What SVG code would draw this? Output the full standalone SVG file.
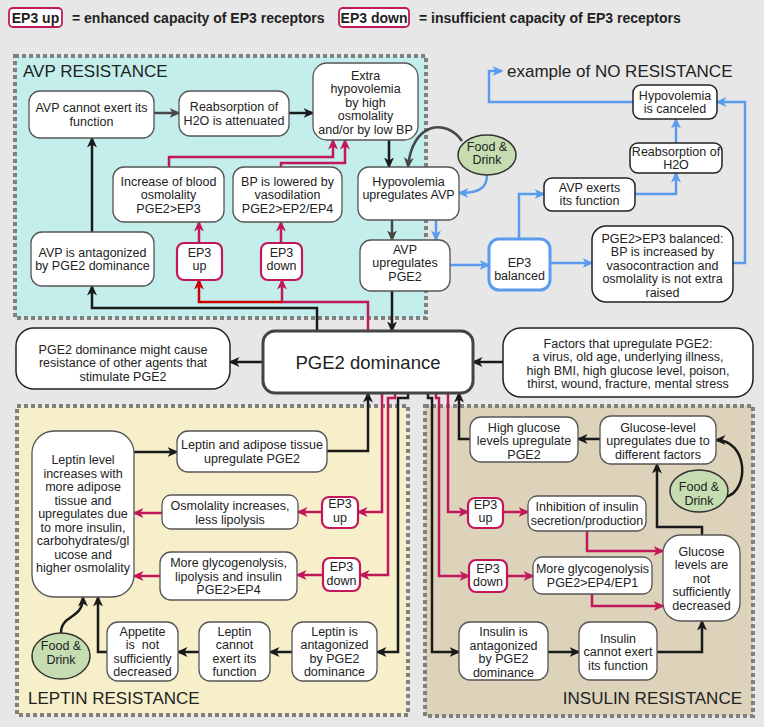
<svg xmlns="http://www.w3.org/2000/svg" width="764" height="727" viewBox="0 0 764 727">
<defs>
<style>
.t{font-family:"Liberation Sans",Arial,sans-serif;font-size:12.5px;fill:#222;text-anchor:middle}
.lg{font-family:"Liberation Sans",Arial,sans-serif;font-size:14px;font-weight:bold;fill:#222}
.lab{font-family:"Liberation Sans",Arial,sans-serif;font-size:17px;fill:#222}
.n{fill:#fff;stroke:#555;stroke-width:1.3}
.nb{fill:#fff;stroke:#222;stroke-width:1.5}
.ep{fill:#fff;stroke:#c2185b;stroke-width:2.2}
.reg{stroke:#808080;stroke-width:4;stroke-dasharray:4 3}
.c{fill:none;stroke-width:2.5;stroke-linejoin:miter}
.k{stroke:#1a1a1a;marker-end:url(#mk)}
.g{stroke:#474747;marker-end:url(#mg)}
.p{stroke:#c2185b;marker-end:url(#mp)}
.r{stroke:#cc0000;marker-end:url(#mr)}
.b{stroke:#5b9bef;marker-end:url(#mb)}
.fd{fill:#c6dcb1;stroke:#333;stroke-width:1.5}
</style>
<marker id="mk" viewBox="0 0 11 10" refX="9.5" refY="5" markerWidth="11" markerHeight="10" markerUnits="userSpaceOnUse" orient="auto"><path d="M0,0 L11,5 L0,10 L3,5 z" fill="#1a1a1a"/></marker>
<marker id="mg" viewBox="0 0 11 10" refX="9.5" refY="5" markerWidth="11" markerHeight="10" markerUnits="userSpaceOnUse" orient="auto"><path d="M0,0 L11,5 L0,10 L3,5 z" fill="#474747"/></marker>
<marker id="mp" viewBox="0 0 11 10" refX="9.5" refY="5" markerWidth="11" markerHeight="10" markerUnits="userSpaceOnUse" orient="auto"><path d="M0,0 L11,5 L0,10 L3,5 z" fill="#c2185b"/></marker>
<marker id="mr" viewBox="0 0 11 10" refX="9.5" refY="5" markerWidth="11" markerHeight="10" markerUnits="userSpaceOnUse" orient="auto"><path d="M0,0 L11,5 L0,10 L3,5 z" fill="#cc0000"/></marker>
<marker id="mb" viewBox="0 0 11 10" refX="9.5" refY="5" markerWidth="11" markerHeight="10" markerUnits="userSpaceOnUse" orient="auto"><path d="M0,0 L11,5 L0,10 L3,5 z" fill="#5b9bef"/></marker>
</defs>

<rect x="0" y="0" width="764" height="727" fill="#e7e7e7"/>

<g id="legend">
<rect x="9" y="8" width="53" height="19" rx="4" fill="#fff" stroke="#c2185b" stroke-width="1.8"/>
<text class="lg" x="35.5" y="22.5" text-anchor="middle">EP3 up</text>
<text class="lg" x="72" y="22.5">= enhanced capacity of EP3 receptors</text>
<rect x="339" y="8" width="70" height="19" rx="4" fill="#fff" stroke="#c2185b" stroke-width="1.8"/>
<text class="lg" x="374" y="22.5" text-anchor="middle">EP3 down</text>
<text class="lg" x="419" y="22.5">= insufficient capacity of EP3 receptors</text>
</g>

<g id="regions">
<rect class="reg" x="15" y="56" width="411" height="262" fill="#c4eeeb"/>
<rect class="reg" x="17" y="406" width="391" height="309" fill="#f6efca"/>
<rect class="reg" x="425" y="406" width="328" height="310" fill="#ddd3bb"/>
<text class="lab" x="23" y="77">AVP RESISTANCE</text>
<text class="lab" x="507" y="77">example of NO RESISTANCE</text>
<text class="lab" x="28" y="704">LEPTIN RESISTANCE</text>
<text class="lab" x="742" y="704" text-anchor="end">INSULIN RESISTANCE</text>
</g>

<g id="connectors">
<!-- AVP resistance -->
<path class="c k" d="M92,232 V138"/>
<path class="c g" d="M154,113 H179"/>
<path class="c k" d="M289,113 H313"/>
<path class="c k" d="M389,140 V167"/>
<path class="c g" d="M462,141 C446,118 412,122 408,167"/>
<path class="c g" d="M392,220 V240"/>
<path class="c k" d="M392,291 V331"/>
<path class="c k" d="M317,331 V308 H92 V286"/>
<path class="c p" d="M368,331 V302 H282 V280"/>
<path class="c r" d="M282,302 H199 V280"/>
<path class="c p" d="M199,243 V222"/>
<path class="c p" d="M281,243 V222"/>
<path class="c p" d="M169,167 V157 H333 V140"/>
<path class="c p" d="M281,167 V163 H345 V140"/>
<!-- no resistance -->
<path class="c b" d="M487,175 C487,188 479,193 459,193"/>
<path class="c b" d="M436,220 V240"/>
<path class="c b" d="M450,265 H489"/>
<path class="c b" d="M519,239 V194 H544"/>
<path class="c b" d="M635,194 H676 V173"/>
<path class="c b" d="M676,143 V119"/>
<path class="c b" d="M550,263 H592"/>
<path class="c b" d="M733,263 H745 V102 H717"/>
<path class="c b" d="M633,102 H489 V71 H502"/>
<!-- middle -->
<path class="c k" d="M263,362 H230"/>
<path class="c k" d="M503,362 H473"/>
<!-- leptin -->
<path class="c k" d="M327,451 H368 V393"/>
<path class="c k" d="M134,452 H177"/>
<path class="c k" d="M408,393 V398 H398 V652 H377"/>
<path class="c k" d="M292,652 H270"/>
<path class="c k" d="M199,652 H178"/>
<path class="c k" d="M107,652 H98 V597"/>
<path class="c k" d="M61,633 C61,614 83,620 83,597"/>
<path class="c p" d="M382,393 V512 H358"/>
<path class="c p" d="M322,512 H298"/>
<path class="c p" d="M162,513 H134"/>
<path class="c p" d="M395,393 V398 H388 V575 H360"/>
<path class="c p" d="M323,575 H297"/>
<path class="c p" d="M160,576 H134"/>
<!-- insulin -->
<path class="c k" d="M428,393 V398 H432 V652 H459"/>
<path class="c k" d="M548,652 H579"/>
<path class="c k" d="M657,652 H702 V621"/>
<path class="c k" d="M702,535 V527 H657 V464"/>
<path class="c k" d="M600,439 H578"/>
<path class="c k" d="M470,439 H459 V393"/>
<path class="c k" d="M726,497 C750,490 748,440 716,440"/>
<path class="c p" d="M448,393 V512 H468"/>
<path class="c p" d="M436,393 V398 H439 V576 H469"/>
<path class="c p" d="M503,512 H528"/>
<path class="c p" d="M587,531 V551 H663"/>
<path class="c p" d="M507,576 H533"/>
<path class="c p" d="M592,594 V606 H663"/>
</g>

<!-- AVP resistance nodes -->
<g id="avp-cannot"><rect class="n" x="29" y="91" width="125" height="47" rx="11"/>
<text class="t"><tspan x="91.5" y="112">AVP cannot exert its</tspan><tspan x="91.5" y="125.5">function</tspan></text></g>
<g id="avp-reabs"><rect class="n" x="179" y="91" width="110" height="45" rx="11"/>
<text class="t"><tspan x="234" y="111">Reabsorption of</tspan><tspan x="234" y="124.5">H2O is attenuated</tspan></text></g>
<g id="avp-extra"><rect class="n" x="313" y="63" width="105" height="77" rx="14"/>
<text class="t"><tspan x="365.5" y="79.5">Extra</tspan><tspan x="365.5" y="93">hypovolemia</tspan><tspan x="365.5" y="106.5">by high</tspan><tspan x="365.5" y="120">osmolality</tspan><tspan x="365.5" y="133.5">and/or by low BP</tspan></text></g>
<g id="avp-increase"><rect class="n" x="113" y="167" width="111" height="55" rx="11"/>
<text class="t"><tspan x="168.5" y="185.5">Increase of blood</tspan><tspan x="168.5" y="199">osmolality</tspan><tspan x="168.5" y="212.5">PGE2&gt;EP3</tspan></text></g>
<g id="avp-bp"><rect class="n" x="233" y="167" width="109" height="55" rx="11"/>
<text class="t"><tspan x="287.5" y="185.5">BP is lowered by</tspan><tspan x="287.5" y="199">vasodilation</tspan><tspan x="287.5" y="212.5">PGE2&gt;EP2/EP4</tspan></text></g>
<g id="hypo-avp"><rect class="n" x="358" y="167" width="101" height="53" rx="11"/>
<text class="t"><tspan x="408.5" y="185.5">Hypovolemia</tspan><tspan x="408.5" y="199">upregulates AVP</tspan></text></g>
<g id="avp-pge2"><rect class="n" x="360" y="240" width="90" height="51" rx="11"/>
<text class="t"><tspan x="405" y="253.5">AVP</tspan><tspan x="405" y="267">upregulates</tspan><tspan x="405" y="280.5">PGE2</tspan></text></g>
<g id="avp-antag"><rect class="n" x="31" y="232" width="123" height="54" rx="11"/>
<text class="t"><tspan x="92.5" y="256.5">AVP is antagonized</tspan><tspan x="92.5" y="270">by PGE2 dominance</tspan></text></g>
<g id="avp-ep3up"><rect class="ep" x="177" y="243" width="45" height="37" rx="7"/>
<text class="t"><tspan x="199.5" y="256.5">EP3</tspan><tspan x="199.5" y="270">up</tspan></text></g>
<g id="avp-ep3down"><rect class="ep" x="261" y="243" width="41" height="37" rx="7"/>
<text class="t"><tspan x="281.5" y="256.5">EP3</tspan><tspan x="281.5" y="270">down</tspan></text></g>
<g id="food-avp"><ellipse class="fd" cx="487" cy="155" rx="29" ry="20"/>
<text class="t"><tspan x="487" y="150.5">Food &amp;</tspan><tspan x="487" y="164">Drink</tspan></text></g>

<!-- no resistance nodes -->
<g id="nr-canceled"><rect class="nb" x="633" y="85" width="84" height="34" rx="8"/>
<text class="t"><tspan x="675" y="99.5">Hypovolemia</tspan><tspan x="675" y="113">is canceled</tspan></text></g>
<g id="nr-reabs"><rect class="nb" x="630" y="143" width="92" height="30" rx="8"/>
<text class="t"><tspan x="676" y="155.5">Reabsorption of</tspan><tspan x="676" y="169">H2O</tspan></text></g>
<g id="nr-exerts"><rect class="nb" x="544" y="178" width="91" height="33" rx="8"/>
<text class="t"><tspan x="589.5" y="191.5">AVP exerts</tspan><tspan x="589.5" y="205">its function</tspan></text></g>
<g id="nr-ep3"><rect x="489" y="239" width="61" height="51" rx="10" fill="#fff" stroke="#5b9bef" stroke-width="3"/>
<text class="t"><tspan x="519.5" y="266.5">EP3</tspan><tspan x="519.5" y="280">balanced</tspan></text></g>
<g id="nr-balanced"><rect class="nb" x="592" y="226" width="141" height="76" rx="14"/>
<text class="t"><tspan x="662.5" y="242.5">PGE2&gt;EP3 balanced:</tspan><tspan x="662.5" y="256">BP is increased by</tspan><tspan x="662.5" y="269.5">vasocontraction and</tspan><tspan x="662.5" y="283">osmolality is not extra</tspan><tspan x="662.5" y="296.5">raised</tspan></text></g>

<!-- middle nodes -->
<g id="other-agents"><rect class="nb" x="16" y="328" width="214" height="61" rx="18"/>
<text class="t"><tspan x="123" y="353.5">PGE2 dominance might cause</tspan><tspan x="123" y="367">resistance of other agents that</tspan><tspan x="123" y="380.5">stimulate PGE2</tspan></text></g>
<g id="pge2"><rect x="263" y="331" width="210" height="62" rx="12" fill="#fff" stroke="#444" stroke-width="3"/>
<text class="t" x="368" y="369" style="font-size:18.5px">PGE2 dominance</text></g>
<g id="factors"><rect class="nb" x="503" y="328" width="250" height="69" rx="18"/>
<text class="t"><tspan x="628" y="347.5">Factors that upregulate PGE2:</tspan><tspan x="628" y="361">a virus, old age, underlying illness,</tspan><tspan x="628" y="374.5">high BMI, high glucose level, poison,</tspan><tspan x="628" y="388">thirst, wound, fracture, mental stress</tspan></text></g>

<!-- leptin nodes -->
<g id="lep-level"><rect class="n" x="32" y="431" width="102" height="166" rx="22"/>
<text class="t"><tspan x="83" y="464">Leptin level</tspan><tspan x="83" y="477.5">increases with</tspan><tspan x="83" y="491">more adipose</tspan><tspan x="83" y="504.5">tissue and</tspan><tspan x="83" y="518">upregulates due</tspan><tspan x="83" y="531.5">to more insulin,</tspan><tspan x="83" y="545">carbohydrates/gl</tspan><tspan x="83" y="558.5">ucose and</tspan><tspan x="83" y="572">higher osmolality</tspan></text></g>
<g id="lep-adipose"><rect class="n" x="177" y="431" width="150" height="41" rx="11"/>
<text class="t"><tspan x="252" y="449">Leptin and adipose tissue</tspan><tspan x="252" y="462.5">upregulate PGE2</tspan></text></g>
<g id="lep-osmo"><rect class="n" x="162" y="495" width="136" height="34" rx="9"/>
<text class="t"><tspan x="230" y="510">Osmolality increases,</tspan><tspan x="230" y="523.5">less lipolysis</tspan></text></g>
<g id="lep-ep3up"><rect class="ep" x="322" y="497" width="36" height="31" rx="7"/>
<text class="t"><tspan x="340" y="508">EP3</tspan><tspan x="340" y="521.5">up</tspan></text></g>
<g id="lep-glyco"><rect class="n" x="160" y="552" width="137" height="48" rx="11"/>
<text class="t"><tspan x="228.5" y="566.5">More glycogenolysis,</tspan><tspan x="228.5" y="580.5">lipolysis and insulin</tspan><tspan x="228.5" y="594">PGE2&gt;EP4</tspan></text></g>
<g id="lep-ep3down"><rect class="ep" x="323" y="558" width="37" height="33" rx="7"/>
<text class="t"><tspan x="341.5" y="571">EP3</tspan><tspan x="341.5" y="584.5">down</tspan></text></g>
<g id="lep-antag"><rect class="n" x="292" y="622" width="85" height="59" rx="11"/>
<text class="t"><tspan x="334.5" y="635.5">Leptin is</tspan><tspan x="334.5" y="649">antagonized</tspan><tspan x="334.5" y="662.5">by PGE2</tspan><tspan x="334.5" y="676">dominance</tspan></text></g>
<g id="lep-cannot"><rect class="n" x="199" y="622" width="71" height="59" rx="11"/>
<text class="t"><tspan x="234.5" y="635.5">Leptin</tspan><tspan x="234.5" y="649">cannot</tspan><tspan x="234.5" y="662.5">exert its</tspan><tspan x="234.5" y="676">function</tspan></text></g>
<g id="lep-appetite"><rect class="n" x="107" y="622" width="71" height="59" rx="11"/>
<text class="t"><tspan x="142.5" y="635.5">Appetite</tspan><tspan x="142.5" y="649">is&#160; not</tspan><tspan x="142.5" y="662.5">sufficiently</tspan><tspan x="142.5" y="676">decreased</tspan></text></g>
<g id="food-lep"><ellipse class="fd" cx="61" cy="656" rx="29" ry="23"/>
<text class="t"><tspan x="61" y="650">Food &amp;</tspan><tspan x="61" y="663.5">Drink</tspan></text></g>

<!-- insulin nodes -->
<g id="ins-high"><rect class="n" x="470" y="417" width="108" height="45" rx="11"/>
<text class="t"><tspan x="524" y="431.5">High glucose</tspan><tspan x="524" y="445">levels upregulate</tspan><tspan x="524" y="458.5">PGE2</tspan></text></g>
<g id="ins-level"><rect class="n" x="600" y="416" width="116" height="48" rx="11"/>
<text class="t"><tspan x="658" y="431.5">Glucose-level</tspan><tspan x="658" y="445">upregulates due to</tspan><tspan x="658" y="458.5">different factors</tspan></text></g>
<g id="food-ins"><ellipse class="fd" cx="699" cy="491" rx="29" ry="21"/>
<text class="t"><tspan x="699" y="491">Food &amp;</tspan><tspan x="699" y="504.5">Drink</tspan></text></g>
<g id="ins-ep3up"><rect class="ep" x="468" y="498" width="35" height="30" rx="7"/>
<text class="t"><tspan x="485.5" y="508.5">EP3</tspan><tspan x="485.5" y="522">up</tspan></text></g>
<g id="ins-inhib"><rect class="n" x="528" y="496" width="118" height="35" rx="9"/>
<text class="t"><tspan x="587" y="511">Inhibition of insulin</tspan><tspan x="587" y="524.5">secretion/production</tspan></text></g>
<g id="ins-glucose"><rect class="n" x="663" y="535" width="77" height="86" rx="18"/>
<text class="t"><tspan x="701.5" y="555.5">Glucose</tspan><tspan x="701.5" y="569">levels are</tspan><tspan x="701.5" y="582.5">not</tspan><tspan x="701.5" y="596">sufficiently</tspan><tspan x="701.5" y="609.5">decreased</tspan></text></g>
<g id="ins-ep3down"><rect class="ep" x="469" y="560" width="38" height="32" rx="7"/>
<text class="t"><tspan x="488" y="572.5">EP3</tspan><tspan x="488" y="586">down</tspan></text></g>
<g id="ins-glyco"><rect class="n" x="533" y="557" width="119" height="37" rx="9"/>
<text class="t"><tspan x="592.5" y="573">More glycogenolysis</tspan><tspan x="592.5" y="586.5">PGE2&gt;EP4/EP1</tspan></text></g>
<g id="ins-antag"><rect class="n" x="459" y="622" width="89" height="58" rx="11"/>
<text class="t"><tspan x="503.5" y="636">Insulin is</tspan><tspan x="503.5" y="649.5">antagonized</tspan><tspan x="503.5" y="663">by PGE2</tspan><tspan x="503.5" y="676.5">dominance</tspan></text></g>
<g id="ins-cannot"><rect class="n" x="579" y="622" width="78" height="58" rx="11"/>
<text class="t"><tspan x="618" y="642.5">Insulin</tspan><tspan x="618" y="656">cannot exert</tspan><tspan x="618" y="669.5">its function</tspan></text></g>
</svg>
